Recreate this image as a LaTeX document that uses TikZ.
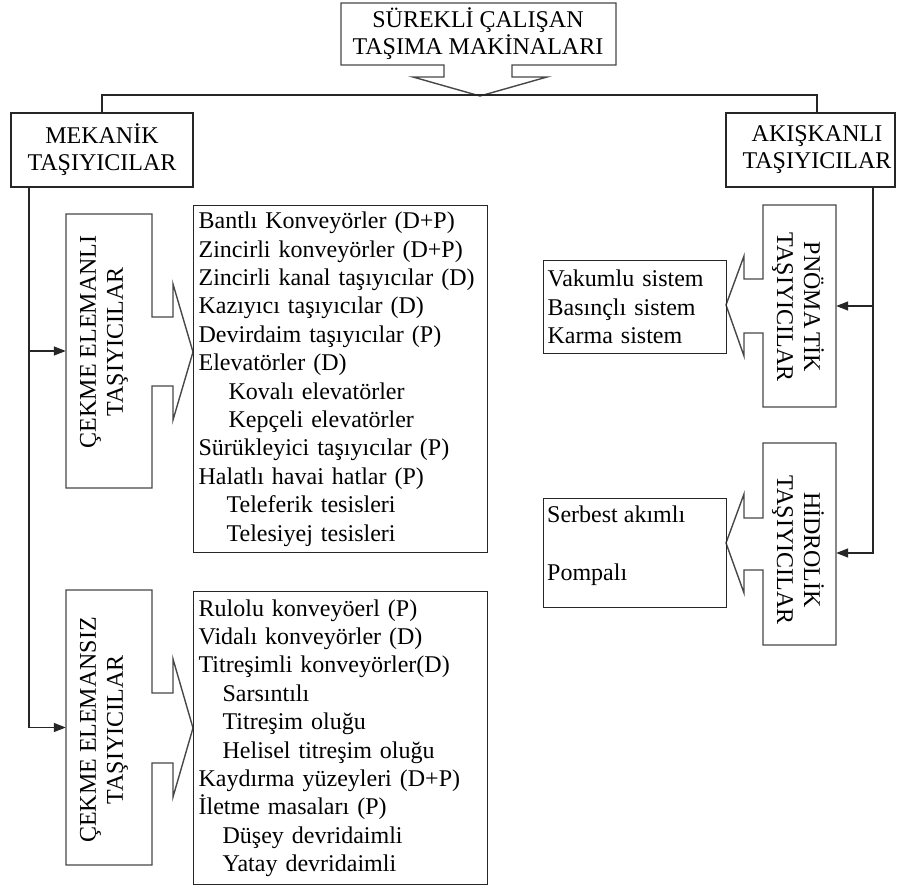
\documentclass[tikz,border=0pt]{standalone}
\usepackage{fontspec}
\setmainfont{Liberation Serif}
\usetikzlibrary{arrows.meta}
\begin{document}
\begin{tikzpicture}[x=1pt,y=-1pt,
  frame/.style={draw=black!85, line width=1.3pt, inner sep=0pt},
  shapeline/.style={draw=black!72, line width=1.4pt, line join=miter},
  conn/.style={draw=black!85, line width=1.3pt},
  arr/.style={conn, -{Triangle[length=12pt,width=9pt]}},
  head/.style={font=\fontsize{24}{27}\selectfont, align=center, inner sep=0pt},
  lst/.style={frame, font=\fontsize{24}{28.4}\selectfont, align=left, inner xsep=5pt, anchor=north west},
]
\useasboundingbox[fill=white] (0,0) rectangle (898,888);

% top box with down arrow
\draw[shapeline] (341,3) -- (616,3) -- (616,65) -- (512,65) -- (512,77) -- (547,77)
  -- (480,96) -- (413,77) -- (444,77) -- (444,65) -- (341,65) -- cycle;
\node[head] (top) at (478,34) {SÜREKLİ ÇALIŞAN\\TAŞIMA MAKİNALARI};
\coordinate (tip) at (480,95);

% second level
\node[frame, minimum width=182pt, minimum height=74pt, head] (mek) at (102,150) {MEKANİK\\TAŞIYICILAR};
\node[frame, minimum width=169pt, minimum height=74pt] (aki) at (810.5,150) {};
\node[head] (akit) at (817,150) {AKIŞKANLI\\TAŞIYICILAR};
\coordinate (akiin) at (817,113);
\draw[conn] (mek.north) |- (tip) -| (akiin);

% left notched boxes
\draw[shapeline] (66,214) -- (152,214) -- (152,317) -- (173,317) -- (173,284) -- (193,352)
  -- (173,420) -- (173,386) -- (152,386) -- (152,488) -- (66,488) -- cycle;
\node[inner sep=0pt, minimum width=86pt, minimum height=274pt] (ce1) at (109,351) {};
\node[head, rotate=90] (ce1t) at (104,342) {ÇEKME ELEMANLI\\TAŞIYICILAR};

\draw[shapeline] (66,590) -- (152,590) -- (152,693) -- (173,693) -- (173,659) -- (193,728)
  -- (173,797) -- (173,763) -- (152,763) -- (152,865) -- (66,865) -- cycle;
\node[inner sep=0pt, minimum width=86pt, minimum height=275pt] (ce2) at (109,727.5) {};
\node[head, rotate=90] (ce2t) at (104,730) {ÇEKME ELEMANSIZ\\TAŞIYICILAR};

% left trunk
\coordinate (ltop) at (29,187);
\draw[arr] (ltop) |- (ce2.west);
\draw[arr] (ltop |- ce1.west) -- (ce1.west);

% lists left
\node[lst, minimum width=294pt, minimum height=347pt, text width=284pt] (l1) at (193,205) {%
Bantlı Konveyörler (D+P)\\
Zincirli konveyörler (D+P)\\
Zincirli kanal taşıyıcılar (D)\\
Kazıyıcı taşıyıcılar (D)\\
Devirdaim taşıyıcılar (P)\\
Elevatörler (D)\\
\hspace*{30pt}Kovalı elevatörler\\
\hspace*{30pt}Kepçeli elevatörler\\
Sürükleyici taşıyıcılar (P)\\
Halatlı havai hatlar (P)\\
\hspace*{28pt}Teleferik tesisleri\\
\hspace*{28pt}Telesiyej tesisleri};

\node[lst, minimum width=294pt, minimum height=293pt, text width=284pt] (l2) at (193,591) {%
Rulolu konveyöerl (P)\\
Vidalı konveyörler (D)\\
Titreşimli konveyörler(D)\\
\hspace*{24pt}Sarsıntılı\\
\hspace*{24pt}Titreşim oluğu\\
\hspace*{24pt}Helisel titreşim oluğu\\
Kaydırma yüzeyleri (D+P)\\
İletme masaları (P)\\
\hspace*{24pt}Düşey devridaimli\\
\hspace*{24pt}Yatay devridaimli};

% right notched boxes
\draw[shapeline] (763,205) -- (836,205) -- (836,407) -- (763,407) -- (763,333) -- (744,333)
  -- (744,356) -- (726,305) -- (744,256) -- (744,279) -- (763,279) -- cycle;
\node[inner sep=0pt, minimum width=73pt, minimum height=202pt] (pno) at (799.5,306) {};
\node[head, rotate=-90] (pnot) at (798,307) {PNÖMA\kern4ptTİK\\TAŞIYICILAR};

\draw[shapeline] (763,443) -- (836,443) -- (836,645) -- (763,645) -- (763,570) -- (744,570)
  -- (744,593) -- (726,543) -- (744,494) -- (744,518) -- (763,518) -- cycle;
\node[inner sep=0pt, minimum width=73pt, minimum height=202pt] (hid) at (799.5,553) {};
\node[head, rotate=-90] (hidt) at (798,550) {HİDROLİK\\TAŞIYICILAR};

% right trunk
\coordinate (rtop) at (873,187);
\draw[arr] (rtop) |- (hid.east);
\draw[arr] (rtop |- pno.east) -- (pno.east);

% right lists
\node[lst, inner xsep=4pt, minimum width=183pt, minimum height=93pt, text width=175pt] (r1) at (543,260) {%
Vakumlu sistem\\
Basınçlı sistem\\
Karma sistem};
\node[frame, anchor=north west, minimum width=183pt, minimum height=109pt] (r2) at (543,498) {};
\node[font=\fontsize{24}{29}\selectfont, align=left, inner sep=0pt, anchor=west] (r2t) at (547,546) {%
Serbest akımlı\\[29pt]
Pompalı};
\end{tikzpicture}
\end{document}
